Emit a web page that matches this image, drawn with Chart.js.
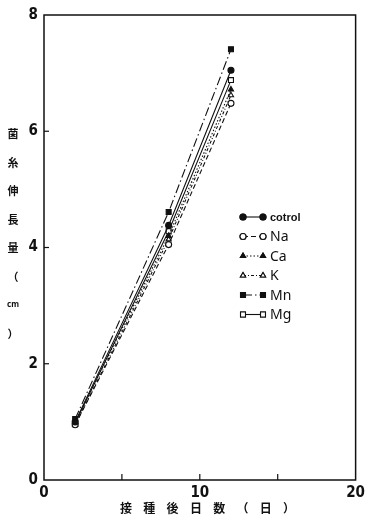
<!DOCTYPE html>
<html>
<head>
<meta charset="utf-8">
<script src="https://cdn.jsdelivr.net/npm/chart.js@4"></script>
<style>
  html, body { margin: 0; padding: 0; background: #fff; }
  #wrap { width: 369px; height: 520px; position: relative; }
</style>
</head>
<body>
<div id="wrap"><canvas id="chartGrowth"></canvas></div>
<script>
// data
var days = [2, 8, 12];
var control = [1.00, 4.38, 7.05];
var na = [0.95, 4.05, 6.48];
var ca = [1.00, 4.20, 6.72];
var kk = [0.95, 4.14, 6.62];
var mn = [1.05, 4.61, 7.41];
var mg = [0.98, 4.28, 6.88];
var seriesNames = ['cotrol', 'Na', 'Ca', 'K', 'Mn', 'Mg'];
var xTickLabels = [0, 10, 20];
var yTitle = ['菌', '糸', '伸', '長', '量', '（', 'cm', '）'];
var xTitle = ['接', '種', '後', '日', '数', '（', '日', '）'];

function pts(vals) {
    return vals.map(function(v, i) { return { x: days[i], y: v }; });
}

var styles = [
    { shape: 'circle', fill: true, dash: [] },
    { shape: 'circle', fill: false, dash: [5, 3] },
    { shape: 'triangle', fill: true, dash: [1.5, 2] },
    { shape: 'triangle', fill: false, dash: [3, 2, 1, 2] },
    { shape: 'rect', fill: true, dash: [9, 3, 1.5, 3] },
    { shape: 'rect', fill: false, dash: [] }
];
var allValues = [control, na, ca, kk, mn, mg];

var datasets = allValues.map(function(vals, i) {
    var s = styles[i];
    return {
        label: seriesNames[i],
        data: pts(vals),
        showLine: true,
        borderColor: '#111',
        borderWidth: 1.1,
        borderDash: s.dash,
        pointStyle: s.shape,
        pointRadius: s.shape === 'rect' ? 3.5 : 3,
        pointBorderWidth: 1.1,
        pointBorderColor: '#111',
        pointBackgroundColor: s.fill ? '#111' : '#fff'
    };
});

var framePlugin = {
    id: 'frame',
    afterDraw: function(chart) {
        var c = chart.ctx, a = chart.chartArea;
        var xs = chart.scales.x, ys = chart.scales.y;
        c.save();
        c.strokeStyle = '#111';
        c.lineWidth = 1.5;
        c.strokeRect(a.left, a.top, a.right - a.left, a.bottom - a.top);
        // inward ticks
        c.lineWidth = 1.2;
        [5, 10, 15].forEach(function(v) {
            var px = xs.getPixelForValue(v);
            c.beginPath(); c.moveTo(px, a.bottom); c.lineTo(px, a.bottom - 6); c.stroke();
        });
        [2, 4, 6].forEach(function(v) {
            var py = ys.getPixelForValue(v);
            c.beginPath(); c.moveTo(a.left, py); c.lineTo(a.left + 5, py); c.stroke();
        });

        // axis titles
        c.fillStyle = '#111';
        c.textAlign = 'center';
        c.textBaseline = 'middle';
        yTitle.forEach(function(ch, i) {
            c.font = ch === 'cm' ? 'bold 8px "Noto Sans"' : 'bold 11px "Noto Sans CJK JP"';
            c.fillText(ch, 13, 134 + i * 28.5);
        });
        c.font = 'bold 12px "Noto Sans CJK JP"';
        xTitle.forEach(function(ch, i) {
            c.fillText(ch, 126 + i * 23.3, 508);
        });

        // legend: marker - line - marker, then label
        chart.data.datasets.forEach(function(ds, i) {
            var y = 217 + i * 19.5;
            var x1 = 243, x2 = 263;
            c.save();
            c.lineWidth = 1.1;
            c.setLineDash(ds.borderDash);
            c.beginPath(); c.moveTo(x1, y); c.lineTo(x2, y); c.stroke();
            c.restore();
            [x1, x2].forEach(function(x) {
                Chart.helpers.drawPoint(c, {
                    pointStyle: ds.pointStyle,
                    radius: ds.pointRadius,
                    borderWidth: 1.1
                }, x, y);
                c.fillStyle = ds.pointBackgroundColor;
                c.strokeStyle = '#111';
                c.lineWidth = 1.1;
                c.setLineDash([]);
                c.fill(); c.stroke();
            });
            c.fillStyle = '#111';
            c.textAlign = 'left';
            c.font = i === 0 ? 'bold 11px "Liberation Sans"' : '14px "Noto Sans"';
            c.fillText(ds.label, 270, y + 1);
        });
        c.restore();
    }
};

var tickFont = { family: '"Liberation Sans Narrow", "DejaVu Sans Condensed", sans-serif', size: 15, weight: 'bold' };

new Chart(document.getElementById('chartGrowth').getContext('2d'), {
    type: 'scatter',
    data: { datasets: datasets },
    options: {
        responsive: true,
        maintainAspectRatio: false,
        animation: false,
        layout: { padding: { top: 14, right: 7, left: 0, bottom: 0 } },
        plugins: { legend: { display: false }, tooltip: { enabled: false } },
        scales: {
            x: {
                min: 0, max: 20,
                afterFit: function(s) { s.height = 40; },
                grid: { display: true, drawOnChartArea: false, drawTicks: false, color: 'transparent' },
                border: { display: false },
                ticks: {
                    stepSize: 5, color: '#111', font: tickFont, padding: 4,
                    callback: function(v) { return xTickLabels.indexOf(v) >= 0 ? v : ''; }
                }
            },
            y: {
                min: 0, max: 8,
                afterFit: function(s) { s.width = 44; },
                grid: { display: true, drawOnChartArea: false, drawTicks: false, color: 'transparent' },
                border: { display: false },
                ticks: { stepSize: 2, color: '#111', font: tickFont, padding: 6 }
            }
        }
    },
    plugins: [framePlugin]
});
</script>
</body>
</html>
